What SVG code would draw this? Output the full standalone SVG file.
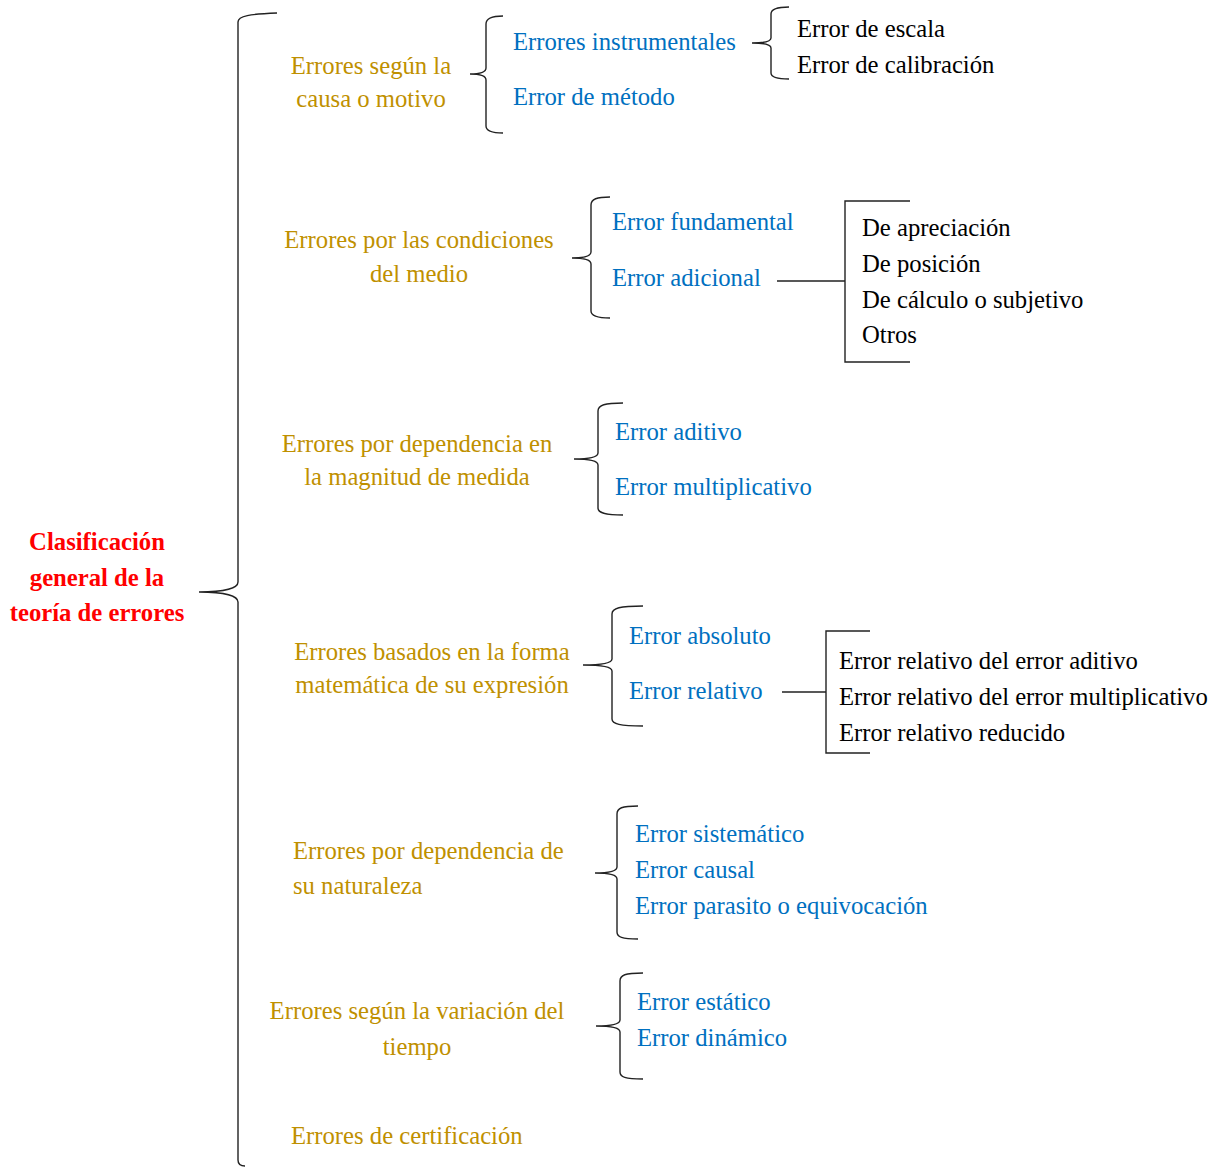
<svg xmlns="http://www.w3.org/2000/svg" width="1220" height="1167" viewBox="0 0 1220 1167">
<style>
text{font-family:"Liberation Serif","Times New Roman",serif;font-size:24.7px}
.g{fill:#BF9000}
.b{fill:#0070C0}
.k{fill:#000}
.r{fill:#FF0000;font-weight:bold}
.m{text-anchor:middle}
.br{fill:none;stroke:#222;stroke-width:1.4}
</style>
<rect width="1220" height="1167" fill="#fff"/>
<g id="connectors">
<path class="br" d="M277,13 C250,14 238,16 238,22 L238,582 C238,588 225,592 199,592 C225,592 238,596 238,602 L238,1160 C238,1164 240,1166 245,1166"/>
<path class="br" d="M503,16 C492,16 486,18 486,24 L486,68 C486,72 480,74 470,74 C480,74 486,76 486,80 L486,126 C486,131 492,133 503,133"/>
<path class="br" d="M789,7 C777,7 771,9 771,14 L771,38 C771,41 765,43 752,43 C765,43 771,45 771,48 L771,73 C771,77 777,79 789,79"/>
<path class="br" d="M610,197 C597,197 591,199 591,205 L591,252 C591,256 584,258 572,258 C584,258 591,260 591,264 L591,311 C591,316 597,318 610,318"/>
<path class="br" d="M623,403 C605,403 598,405 598,411 L598,453 C598,457 590,459 574,459 C590,459 598,461 598,465 L598,508 C598,513 605,515 623,515"/>
<path class="br" d="M643,606 C620,606 612,608 612,614 L612,659 C612,663 602,665 583,665 C602,665 612,667 612,671 L612,719 C612,724 620,726 643,726"/>
<path class="br" d="M638,806 C622,806 617,808 617,814 L617,867 C617,871 609,873 595,873 C609,873 617,875 617,879 L617,932 C617,937 622,939 638,939"/>
<path class="br" d="M643,973 C625,973 620,975 620,981 L620,1020 C620,1024 611,1026 596,1026 C611,1026 620,1028 620,1032 L620,1072 C620,1077 625,1079 643,1079"/>
<path class="br" d="M777,281 H845 M910,201 H845 V362 H910"/>
<path class="br" d="M782,692 H826 M870,631 H826 V753 H870"/>
</g>
<g id="root"><text class="r m" x="97" y="550">Clasificación</text><text class="r m" x="97" y="586">general de la</text><text class="r m" x="97" y="621">teoría de errores</text></g>
<g id="n1"><text class="g m" x="371" y="74">Errores según la</text><text class="g m" x="371" y="107">causa o motivo</text></g>
<g id="n1a"><text class="b" x="513" y="50">Errores instrumentales</text></g>
<g id="n1b"><text class="b" x="513" y="105">Error de método</text></g>
<g id="n1a1"><text class="k" x="797" y="37">Error de escala</text></g>
<g id="n1a2"><text class="k" x="797" y="73">Error de calibración</text></g>
<g id="n2"><text class="g m" x="419" y="248">Errores por las condiciones</text><text class="g m" x="419" y="282">del medio</text></g>
<g id="n2a"><text class="b" x="612" y="230">Error fundamental</text></g>
<g id="n2b"><text class="b" x="612" y="286">Error adicional</text></g>
<g id="n2b1"><text class="k" x="862" y="236">De apreciación</text><text class="k" x="862" y="272">De posición</text><text class="k" x="862" y="308">De cálculo o subjetivo</text><text class="k" x="862" y="343">Otros</text></g>
<g id="n3"><text class="g m" x="417" y="452">Errores por dependencia en</text><text class="g m" x="417" y="485">la magnitud de medida</text></g>
<g id="n3a"><text class="b" x="615" y="440">Error aditivo</text></g>
<g id="n3b"><text class="b" x="615" y="495">Error multiplicativo</text></g>
<g id="n4"><text class="g m" x="432" y="660">Errores basados en la forma</text><text class="g m" x="432" y="693">matemática de su expresión</text></g>
<g id="n4a"><text class="b" x="629" y="644">Error absoluto</text></g>
<g id="n4b"><text class="b" x="629" y="699">Error relativo</text></g>
<g id="n4b1"><text class="k" x="839" y="669">Error relativo del error aditivo</text><text class="k" x="839" y="705">Error relativo del error multiplicativo</text><text class="k" x="839" y="741">Error relativo reducido</text></g>
<g id="n5"><text class="g" x="293" y="859">Errores por dependencia de</text><text class="g" x="293" y="894">su naturaleza</text></g>
<g id="n5a"><text class="b" x="635" y="842">Error sistemático</text><text class="b" x="635" y="878">Error causal</text><text class="b" x="635" y="914">Error parasito o equivocación</text></g>
<g id="n6"><text class="g m" x="417" y="1019">Errores según la variación del</text><text class="g m" x="417" y="1055">tiempo</text></g>
<g id="n6a"><text class="b" x="637" y="1010">Error estático</text><text class="b" x="637" y="1046">Error dinámico</text></g>
<g id="n7"><text class="g" x="291" y="1144">Errores de certificación</text></g>
</svg>
